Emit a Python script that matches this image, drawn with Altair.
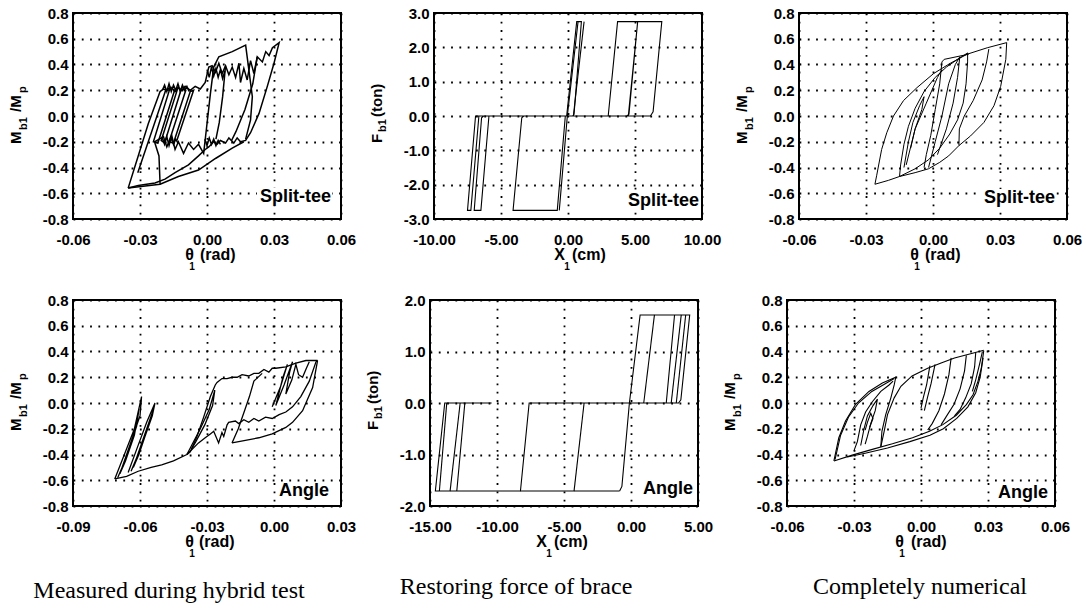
import altair as alt
import pandas as pd

# ---------------- Panel 1: Split-tee, measured during hybrid test ----------------
P1_OUTER = [(-0.0353, -0.56), (-0.0308, -0.31), (-0.0263, -0.06), (-0.0210, 0.19), (-0.0195, 0.21),
            (-0.0173, 0.20), (-0.0158, 0.22), (-0.0143, 0.19), (-0.0128, 0.22), (-0.0113, 0.20),
            (-0.0098, 0.23), (-0.0075, 0.20), (-0.0053, 0.23), (-0.0030, 0.21), (-0.0008, 0.26),
            (0.0008, 0.38), (0.0023, 0.39), (0.0038, 0.34), (0.0053, 0.41), (0.0068, 0.33),
            (0.0083, 0.39), (0.0098, 0.32), (0.0113, 0.38), (0.0128, 0.30), (0.0143, 0.41),
            (0.0150, 0.26), (0.0165, 0.37), (0.0180, 0.28), (0.0195, 0.43), (0.0210, 0.33),
            (0.0225, 0.46), (0.0248, 0.42), (0.0263, 0.50), (0.0278, 0.47), (0.0293, 0.53),
            (0.0323, 0.57), (0.0300, 0.41), (0.0270, 0.23), (0.0233, 0.02), (0.0195, -0.13),
            (0.0173, -0.19), (0.0150, -0.20), (0.0135, -0.17), (0.0120, -0.21), (0.0098, -0.17),
            (0.0083, -0.21), (0.0060, -0.19), (0.0045, -0.22), (0.0030, -0.20), (0.0008, -0.24),
            (-0.0008, -0.26), (-0.0038, -0.31), (-0.0083, -0.38), (-0.0143, -0.44), (-0.0188, -0.49),
            (-0.0233, -0.52), (-0.0308, -0.54), (-0.0353, -0.56)]
P1_MID = [(-0.0210, -0.53), (-0.0215, -0.31), (-0.0235, -0.20), (-0.0195, -0.16), (-0.0180, -0.24),
          (-0.0158, -0.15), (-0.0143, -0.26), (-0.0128, -0.20), (-0.0105, -0.29), (-0.0083, -0.21),
          (-0.0060, -0.26), (-0.0038, -0.22), (-0.0015, -0.29), (0.0000, -0.06), (0.0015, 0.17),
          (0.0030, 0.38), (0.0053, 0.46), (0.0113, 0.50), (0.0173, 0.55), (0.0188, 0.35),
          (0.0203, 0.15), (0.0195, -0.03), (0.0173, -0.18)]
P1_MID2 = [(0.0225, 0.46), (0.0205, 0.25), (0.0170, 0.05), (0.0130, -0.12), (0.0110, -0.19)]
P1_MID3 = [(0.0083, 0.39), (0.0070, 0.15), (0.0055, -0.05), (0.0040, -0.18)]
P1_LOW = [(-0.0353, -0.56), (-0.0210, -0.53), (-0.0128, -0.47), (-0.0038, -0.42), (0.0038, -0.33),
          (0.0113, -0.25), (0.0165, -0.20)]
P1_INNER = [(-0.0310, -0.44), (-0.0185, 0.20), (-0.0165, 0.22), (-0.0240, -0.20), (-0.0220, -0.21),
            (-0.0145, 0.20), (-0.0130, 0.22), (-0.0205, -0.19), (-0.0190, -0.21), (-0.0115, 0.21),
            (-0.0095, 0.20), (-0.0170, -0.20), (-0.0150, -0.21), (-0.0075, 0.19), (-0.0060, 0.20),
            (-0.0135, -0.19)]
P1_TOPZ = [(-0.0200, 0.20), (-0.0190, 0.24), (-0.0180, 0.19), (-0.0170, 0.25), (-0.0160, 0.19),
           (-0.0150, 0.24), (-0.0140, 0.20), (-0.0130, 0.25), (-0.0120, 0.19), (-0.0110, 0.24),
           (-0.0100, 0.20), (-0.0090, 0.23), (-0.0080, 0.19)]
P1_BOTZ = [(-0.0200, -0.17), (-0.0190, -0.22), (-0.0180, -0.16), (-0.0170, -0.23), (-0.0160, -0.17),
           (-0.0150, -0.22), (-0.0140, -0.18), (-0.0130, -0.21)]
P1_BOTZ2 = [(-0.0010, -0.18), (0.0000, -0.23), (0.0010, -0.17), (0.0020, -0.22), (0.0030, -0.18),
            (0.0040, -0.23), (0.0050, -0.19), (0.0060, -0.22)]
P1_MIDZ = [(0.0000, 0.36), (0.0010, 0.30), (0.0020, 0.38), (0.0030, 0.31), (0.0040, 0.37),
           (0.0050, 0.30), (0.0060, 0.36), (0.0070, 0.29), (0.0080, 0.35)]

# ---------------- Panel 2: Split-tee, restoring force of brace ----------------
P2_MAIN = [(-0.1, 0.0), (0.65, 2.75), (1.0, 2.75), (0.45, 0.05), (0.35, 0.0), (-0.2, 0.0),
           (-0.8, -2.75), (-4.1, -2.75), (-3.45, -0.05), (-3.3, 0.0), (3.0, 0.0), (3.7, 2.75),
           (5.2, 2.75), (4.55, 0.05), (4.4, 0.0), (-5.9, 0.0), (-6.5, -2.75), (-7.0, -2.75),
           (-6.45, -0.05), (-6.3, 0.0), (4.5, 0.0), (5.2, 2.75), (7.0, 2.75), (6.35, 0.12),
           (6.15, 0.0), (-6.9, 0.0), (-7.5, -2.75), (-7.25, -2.75), (-6.65, 0.0)]
P2_B = [(-0.65, -2.75), (-0.05, 0.0), (0.75, 2.75)]
P2_C = [(0.4, 0.0), (1.2, 2.75)]

# ---------------- Panel 3: Split-tee, completely numerical ----------------
P3_OUTER = [(-0.0260, -0.53), (-0.0252, -0.46), (-0.0230, -0.26), (-0.0207, -0.13), (-0.0177, 0.0),
            (-0.0132, 0.12), (-0.0072, 0.22), (0.0003, 0.33), (0.0078, 0.41), (0.0153, 0.48),
            (0.0243, 0.53), (0.0330, 0.57), (0.0326, 0.44), (0.0303, 0.23), (0.0273, 0.08),
            (0.0228, -0.05), (0.0168, -0.155), (0.0116, -0.23)]
P3_LOWER = [(-0.0260, -0.53), (-0.0200, -0.50), (-0.0150, -0.47), (-0.0080, -0.44), (-0.0020, -0.41),
            (0.0030, -0.36), (0.0070, -0.31), (0.0116, -0.23)]
P3_RIGHT = [(0.0116, -0.23), (0.0118, -0.10), (0.0140, 0.0), (0.0180, 0.12), (0.0220, 0.28),
            (0.0240, 0.42), (0.0250, 0.52)]
P3_MID = [(-0.0150, -0.47), (-0.0145, -0.38), (-0.0130, -0.22), (-0.0110, -0.08), (-0.0080, 0.06),
          (-0.0040, 0.19), (0.0010, 0.30), (0.0060, 0.38), (0.0110, 0.44), (0.0155, 0.49),
          (0.0155, 0.42), (0.0148, 0.25), (0.0135, 0.10), (0.0110, -0.03), (0.0075, -0.14),
          (0.0030, -0.25), (-0.0020, -0.34), (-0.0080, -0.41), (-0.0150, -0.47)]
P3_V1 = [(0.0160, 0.48), (0.0050, 0.44), (0.0040, 0.42), (0.0030, 0.25), (0.0010, 0.05),
         (-0.0010, -0.15), (-0.0030, -0.30), (-0.0040, -0.40)]
P3_Z1 = [(-0.0130, -0.40), (-0.0110, -0.20), (-0.0090, -0.05), (-0.0060, 0.08), (-0.0040, 0.15),
         (-0.0050, 0.05), (-0.0080, -0.10), (-0.0100, -0.25)]
P3_Z2 = [(-0.0120, -0.38), (-0.0080, -0.10), (-0.0030, 0.10), (0.0020, 0.30), (0.0040, 0.36)]
P3_Z3 = [(-0.0020, -0.40), (0.0010, -0.20), (0.0040, 0.0), (0.0070, 0.25), (0.0100, 0.40),
         (0.0120, 0.46), (0.0110, 0.30), (0.0090, 0.10), (0.0060, -0.10), (0.0020, -0.30)]

# ---------------- Panel 4: Angle, measured during hybrid test ----------------
P4_L1 = [(-0.0713, -0.59), (-0.0670, -0.40), (-0.0625, -0.20), (-0.0593, 0.05), (-0.0600, -0.10),
         (-0.0640, -0.30), (-0.0690, -0.55), (-0.0665, -0.45), (-0.0625, -0.25), (-0.0605, -0.05),
         (-0.0615, -0.18), (-0.0660, -0.42), (-0.0700, -0.58)]
P4_L2 = [(-0.0653, -0.54), (-0.0615, -0.36), (-0.0570, -0.15), (-0.0533, 0.0), (-0.0545, -0.10),
         (-0.0590, -0.32), (-0.0640, -0.53), (-0.0620, -0.45), (-0.0580, -0.25), (-0.0540, -0.05),
         (-0.0560, -0.17), (-0.0605, -0.40), (-0.0630, -0.50)]
P4_BOT = [(-0.0713, -0.59), (-0.0660, -0.57), (-0.0608, -0.53), (-0.0550, -0.50), (-0.0503, -0.48),
          (-0.0450, -0.45), (-0.0390, -0.40)]
P4_MID = [(-0.0390, -0.40), (-0.0338, -0.31), (-0.0308, -0.27), (-0.0285, -0.24), (-0.0270, -0.22),
          (-0.0248, -0.31), (-0.0233, -0.23), (-0.0225, -0.26), (-0.0210, -0.17), (-0.0203, -0.15),
          (-0.0173, -0.14), (-0.0158, -0.16), (-0.0135, -0.13), (-0.0113, -0.15), (-0.0090, -0.12),
          (-0.0068, -0.14), (-0.0038, -0.11), (-0.0008, -0.12), (0.0023, -0.09), (0.0053, -0.07),
          (0.0083, -0.03), (0.0120, 0.05), (0.0158, 0.17), (0.0188, 0.32), (0.0195, 0.33)]
P4_RLOW = [(-0.0188, -0.31), (-0.0128, -0.29), (-0.0068, -0.27), (-0.0008, -0.24), (0.0053, -0.19),
           (0.0083, -0.15), (0.0128, -0.06), (0.0173, 0.12), (0.0195, 0.33)]
P4_TOP = [(0.0195, 0.33), (0.0143, 0.33), (0.0098, 0.31), (0.0053, 0.28), (0.0008, 0.27),
          (-0.0008, 0.27), (-0.0023, 0.24), (-0.0045, 0.26), (-0.0068, 0.23), (-0.0090, 0.23),
          (-0.0113, 0.21), (-0.0143, 0.22), (-0.0165, 0.20), (-0.0188, 0.20), (-0.0210, 0.19),
          (-0.0233, 0.19), (-0.0255, 0.16), (-0.0263, 0.14), (-0.0285, 0.05), (-0.0315, -0.11),
          (-0.0345, -0.26), (-0.0375, -0.38), (-0.0390, -0.40)]
P4_MSTEEP = [(-0.0390, -0.40), (-0.0330, -0.20), (-0.0290, -0.05), (-0.0265, 0.10), (-0.0275, -0.02),
             (-0.0310, -0.17), (-0.0350, -0.30), (-0.0370, -0.36)]
P4_DIAG = [(-0.0188, -0.31), (-0.0160, -0.20), (-0.0130, -0.05), (-0.0110, 0.05), (-0.0090, 0.17),
           (-0.0053, 0.23)]
P4_RSTEEP = [(-0.0008, -0.03), (0.0030, 0.13), (0.0060, 0.30), (0.0040, 0.20), (0.0008, -0.02),
             (0.0045, 0.14), (0.0083, 0.32), (0.0070, 0.24), (0.0053, 0.07), (0.0080, 0.18),
             (0.0098, 0.30), (0.0110, 0.22), (0.0128, 0.20), (0.0145, 0.27), (0.0158, 0.32)]

# ---------------- Panel 5: Angle, restoring force of brace ----------------
P5_MAIN = [(-0.85, -1.71), (-0.68, -1.62), (-0.12, 0.0), (0.68, 1.71), (4.38, 1.71), (3.72, 0.06),
           (3.55, 0.0), (-7.6, 0.0), (-8.25, -1.71), (-14.6, -1.71), (-13.9, 0.0), (-10.4, 0.0)]
P5_BOT = [(-8.25, -1.71), (-0.85, -1.71)]
P5_T1 = [(0.95, 0.0), (1.75, 1.71)]
P5_T2 = [(2.63, 0.0), (3.25, 1.71)]
P5_T3 = [(3.0, 0.0), (3.75, 1.71)]
P5_T4 = [(3.38, 0.0), (4.08, 1.71)]
P5_B1 = [(-3.5, 0.0), (-4.25, -1.71)]
P5_B2 = [(-13.75, 0.0), (-14.3, -1.71)]
P5_B3 = [(-12.75, 0.0), (-13.5, -1.71)]
P5_B4 = [(-12.4, 0.0), (-13.0, -1.71)]

# ---------------- Panel 6: Angle, completely numerical ----------------
P6_LOWER = [(-0.0390, -0.45), (-0.0308, -0.405), (-0.0218, -0.36), (-0.0128, -0.317), (-0.0038, -0.27),
            (0.0038, -0.22), (0.0098, -0.168), (0.0158, -0.095), (0.0203, -0.013), (0.0233, 0.064),
            (0.0255, 0.168), (0.0270, 0.27), (0.0281, 0.407)]
P6_LOW2 = [(-0.0330, -0.42), (-0.0250, -0.39), (-0.0150, -0.35), (-0.0050, -0.30), (0.0040, -0.25),
           (0.0100, -0.20), (0.0160, -0.12), (0.0210, -0.03), (0.0245, 0.08), (0.0265, 0.20),
           (0.0278, 0.35)]
P6_A = [(-0.0390, -0.45), (-0.0368, -0.27), (-0.0338, -0.14), (-0.0293, -0.01), (-0.0233, 0.09),
        (-0.0173, 0.155), (-0.0113, 0.20), (-0.0120, 0.14), (-0.0135, 0.04), (-0.0158, -0.09),
        (-0.0175, -0.22), (-0.0180, -0.34)]
P6_A2 = [(-0.0385, -0.44), (-0.0360, -0.25), (-0.0325, -0.11), (-0.0280, 0.0), (-0.0220, 0.09),
         (-0.0160, 0.15), (-0.0120, 0.19)]
P6_B = [(-0.0180, -0.34), (-0.0165, -0.22), (-0.0150, -0.09), (-0.0120, 0.04), (-0.0090, 0.13),
        (-0.0040, 0.21), (0.0030, 0.27), (0.0090, 0.31), (0.0150, 0.35), (0.0218, 0.38), (0.0281, 0.41)]
P6_IN1 = [(-0.0300, -0.37), (-0.0285, -0.30), (-0.0270, -0.17), (-0.0248, -0.07), (-0.0218, 0.01),
          (-0.0180, 0.09), (-0.0143, 0.14), (-0.0125, 0.17)]
P6_IN2 = [(-0.0270, -0.33), (-0.0255, -0.20), (-0.0240, -0.10), (-0.0215, -0.02), (-0.0195, 0.03),
          (-0.0205, -0.06), (-0.0225, -0.16), (-0.0240, -0.26), (-0.0250, -0.32)]
P6_IN3 = [(-0.0250, -0.21), (-0.0240, -0.15), (-0.0225, -0.08), (-0.0215, -0.12), (-0.0230, -0.19)]
P6_R1 = [(0.0040, 0.29), (0.0025, 0.14), (0.0010, 0.04), (0.0000, -0.04)]
P6_R2 = [(0.0063, 0.30), (0.0045, 0.15), (0.0030, 0.05), (0.0015, -0.06)]
P6_R3 = [(0.0135, 0.35), (0.0125, 0.22), (0.0105, 0.07), (0.0080, -0.06), (0.0050, -0.16), (0.0030, -0.21)]
P6_R4 = [(0.0203, 0.37), (0.0195, 0.25), (0.0175, 0.11), (0.0148, -0.01), (0.0115, -0.10), (0.0090, -0.17)]
P6_R5 = [(0.0245, 0.39), (0.0240, 0.28), (0.0225, 0.15), (0.0200, 0.04), (0.0175, -0.05), (0.0150, -0.10)]
P6_R6 = [(0.0275, 0.40), (0.0262, 0.30), (0.0245, 0.18), (0.0230, 0.09)]

# ---------------- ticks ----------------
X_TICKS_RAD = [-0.06, -0.03, 0.0, 0.03, 0.06]
X_TICKS_RAD4 = [-0.09, -0.06, -0.03, 0.0, 0.03]
Y_TICKS_M = [-0.8, -0.6, -0.4, -0.2, 0.0, 0.2, 0.4, 0.6, 0.8]
X_TICKS_CM2 = [-10, -5, 0, 5, 10]
Y_TICKS_F2 = [-3, -2, -1, 0, 1, 2, 3]
X_TICKS_CM5 = [-15, -10, -5, 0, 5]
Y_TICKS_F5 = [-2, -1, 0, 1, 2]

SANS = "Liberation Sans"
SERIF = "Liberation Serif"
W, H = 268, 206
CX = W / 2
LBL = "replace(datum.label, '\u2212', '-')"


def build_df(paths):
    rows = []
    for s, pts in enumerate(paths):
        for i, (x, y) in enumerate(pts):
            rows.append({"x": x, "y": y, "seg": s, "i": i})
    return pd.DataFrame(rows)


def tx(s, x, y, size, align="left", angle=0, weight="bold", font=SANS):
    return alt.Chart(pd.DataFrame({"k": [0]})).mark_text(
        text=s, align=align, baseline="alphabetic", angle=angle,
        font=font, fontSize=size, fontWeight=weight, color="black"
    ).encode(x=alt.value(x), y=alt.value(y))


def axis(vals, fmt, pad):
    return alt.Axis(values=vals, format=fmt, labelExpr=LBL, grid=True, gridColor="black",
                    gridDash=[1.8, 6.5], gridWidth=1.8, gridOpacity=1, domain=False, ticks=False,
                    labelFont=SANS, labelFontWeight="bold", labelFontSize=15, labelColor="black",
                    labelPadding=pad, labelFlush=False, labelOverlap=False, title=None)


def panel(paths, xdom, xvals, xfmt, ydom, yvals, yfmt, label, lab_r, lab_b,
          xsym, xrest, xr, xsub, xrest_dx, ykind, sw, caption=None, cap_dx=0, cap_y=0):
    df = build_df(paths)
    lines = alt.Chart(df).mark_line(color="black", strokeWidth=sw, clip=True).encode(
        x=alt.X("x:Q", scale=alt.Scale(domain=xdom, nice=False, zero=False), axis=axis(xvals, xfmt, 13)),
        y=alt.Y("y:Q", scale=alt.Scale(domain=ydom, nice=False, zero=False), axis=axis(yvals, yfmt, 5)),
        detail="seg:N", order="i:Q")
    lw = 74 if label == "Split-tee" else 50
    box = alt.Chart(pd.DataFrame({"k": [0]})).mark_rect(color="white").encode(
        x=alt.value(W - lab_r - lw), x2=alt.value(W - lab_r + 1),
        y=alt.value(H - lab_b - 14), y2=alt.value(H - lab_b + 4))
    layers = [lines, box, tx(label, W - lab_r, H - lab_b, 18, align="right")]
    # x title: symbol, subscript 1, unit
    layers += [tx(xsym, CX + xr, H + 41, 16, align="right"),
               tx("1", CX + xr + xsub, H + 51, 10, align="center"),
               tx(xrest, CX + xrest_dx, H + 41, 16)]
    if ykind == "M":
        layers += [tx("M", -52, 131, 15, angle=270), tx("b1", -46, 117, 11, angle=270),
                   tx("/M", -52, 99, 15, angle=270), tx("p", -47, 80, 11, angle=270)]
    else:
        layers += [tx("F", -52, 130, 15, angle=270), tx("b1", -48, 119, 11, angle=270),
                   tx("(ton)", -52, 104, 15, angle=270)]
    if caption:
        layers.append(tx(caption, CX + cap_dx, H + cap_y, 24, align="center", weight="normal", font=SERIF))
    return alt.layer(*layers).properties(width=W, height=H)


p1 = panel([P1_OUTER, P1_MID, P1_MID2, P1_MID3, P1_LOW, P1_INNER, P1_TOPZ, P1_BOTZ, P1_BOTZ2, P1_MIDZ],
           [-0.06, 0.06], X_TICKS_RAD, ".2f", [-0.8, 0.8], Y_TICKS_M, ".1f",
           "Split-tee", 10, 17, "\u03b8", "(rad)", -13, -2, -7, "M", 1.5)
p2 = panel([P2_MAIN, P2_B, P2_C],
           [-10, 10], X_TICKS_CM2, ".2f", [-3, 3], Y_TICKS_F2, ".1f",
           "Split-tee", 3, 13, "X", "(cm)", -3, 2, 4, "F", 1.1)
p3 = panel([P3_OUTER, P3_LOWER, P3_RIGHT, P3_MID, P3_V1, P3_Z1, P3_Z2, P3_Z3],
           [-0.06, 0.06], X_TICKS_RAD, ".2f", [-0.8, 0.8], Y_TICKS_M, ".1f",
           "Split-tee", 12, 16, "\u03b8", "(rad)", -14, -2, -8, "M", 1.0)
p4 = panel([P4_L1, P4_L2, P4_BOT, P4_MID, P4_RLOW, P4_TOP, P4_MSTEEP, P4_DIAG, P4_RSTEEP],
           [-0.09, 0.03], X_TICKS_RAD4, ".2f", [-0.8, 0.8], Y_TICKS_M, ".1f",
           "Angle", 12, 10, "\u03b8", "(rad)", -13, -2, -8, "M", 1.3,
           caption="Measured during hybrid test", cap_dx=-38, cap_y=92)
p5 = panel([P5_MAIN, P5_BOT, P5_T1, P5_T2, P5_T3, P5_T4, P5_B1, P5_B2, P5_B3, P5_B4],
           [-15, 5], X_TICKS_CM5, ".2f", [-2, 2], Y_TICKS_F5, ".1f",
           "Angle", 5, 12, "X", "(cm)", -17, 2, -10, "F", 1.1,
           caption="Restoring force of brace", cap_dx=-48, cap_y=88)
p6 = panel([P6_LOWER, P6_LOW2, P6_A, P6_A2, P6_B, P6_IN1, P6_IN2, P6_IN3,
            P6_R1, P6_R2, P6_R3, P6_R4, P6_R5, P6_R6],
           [-0.06, 0.06], X_TICKS_RAD, ".2f", [-0.8, 0.8], Y_TICKS_M, ".1f",
           "Angle", 7, 8, "\u03b8", "(rad)", -17, -2, -10, "M", 1.1,
           caption="Completely numerical", cap_dx=-1, cap_y=88)

top = alt.hconcat(p1, p2, p3, spacing=12)
bottom = alt.hconcat(p4, p5, p6, spacing=8)
chart = alt.vconcat(top, bottom, spacing=19).properties(
    padding={"left": 8, "top": 5, "right": 0, "bottom": 0},
    background="white",
).configure_view(stroke="black", strokeWidth=2)

chart.save("out.html", embed_options={"renderer": "svg", "actions": False})
